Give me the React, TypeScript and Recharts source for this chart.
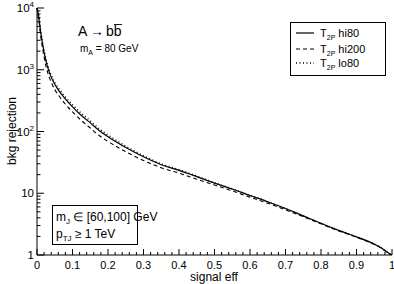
import React from "react"
import { LineChart, Line, XAxis, YAxis } from "recharts"

// signal efficiency sampling shared by all three curves
const effs = [
  0, 0.005, 0.01, 0.02, 0.03, 0.04, 0.05, 0.06, 0.075, 0.1, 0.125, 0.15, 0.175,
  0.2, 0.25, 0.3, 0.35, 0.4, 0.45, 0.5, 0.55, 0.6, 0.65, 0.7, 0.75, 0.8, 0.85,
  0.9, 0.95, 0.97, 0.99, 1,
]

const hi80 = [
  10000, 7000, 4170, 1900, 1100, 760, 582, 473, 363, 251, 182, 138, 104, 82, 55,
  39, 29, 23.5, 18.6, 14.6, 11.7, 9.2, 7.3, 5.65, 4.3, 3.26, 2.5, 1.97, 1.5,
  1.3, 1.08, 1,
]

const hi200 = [
  10000, 6500, 3700, 1600, 910, 630, 480, 390, 300, 208, 151, 114, 86, 69, 47,
  34, 25.8, 21.2, 16.9, 13.6, 10.9, 8.65, 6.9, 5.4, 4.17, 3.2, 2.45, 1.94, 1.48,
  1.29, 1.07, 1,
]

const lo80 = [
  10000, 7400, 4500, 2050, 1190, 820, 628, 510, 392, 271, 197, 149, 111, 88, 58,
  40.5, 30, 24.2, 19, 14.8, 11.8, 9.25, 7.3, 5.65, 4.3, 3.26, 2.5, 1.97, 1.5,
  1.3, 1.08, 1,
]

const xTicks = [
  0, 0.02, 0.04, 0.06, 0.08, 0.1, 0.12, 0.14, 0.16, 0.18, 0.2, 0.22, 0.24, 0.26,
  0.28, 0.3, 0.32, 0.34, 0.36, 0.38, 0.4, 0.42, 0.44, 0.46, 0.48, 0.5, 0.52,
  0.54, 0.56, 0.58, 0.6, 0.62, 0.64, 0.66, 0.68, 0.7, 0.72, 0.74, 0.76, 0.78,
  0.8, 0.82, 0.84, 0.86, 0.88, 0.9, 0.92, 0.94, 0.96, 0.98, 1,
]

const yTicks = [
  1, 2, 3, 4, 5, 6, 7, 8, 9, 10, 20, 30, 40, 50, 60, 70, 80, 90, 100, 200, 300,
  400, 500, 600, 700, 800, 900, 1000, 2000, 3000, 4000, 5000, 6000, 7000, 8000,
  9000, 10000,
]

const data = effs.map((eff, i) => ({
  eff,
  hi80: hi80[i],
  hi200: hi200[i],
  lo80: lo80[i],
}))

const FONT = "'Liberation Sans', Arial, Helvetica, sans-serif"

const isMajorX = (v: number) => Math.abs(v * 10 - Math.round(v * 10)) < 1e-6
const isMajorY = (v: number) => {
  const l = Math.log10(v)
  return Math.abs(l - Math.round(l)) < 1e-6
}

function BottomTick(props: any) {
  const { x, y, payload } = props
  const v = payload.value
  const major = isMajorX(v)
  const label = v === 0 ? "0" : v === 1 ? "1" : v.toFixed(1)
  return (
    <g>
      <line x1={x} x2={x} y1={y} y2={y - (major ? 6 : 3)} stroke="#000" />
      {major && (
        <text
          x={x}
          y={y + 14}
          textAnchor="middle"
          fontSize={11}
          fontFamily={FONT}
          fill="#000"
        >
          {label}
        </text>
      )}
    </g>
  )
}

function TopTick(props: any) {
  const { x, y, payload } = props
  const major = isMajorX(payload.value)
  return <line x1={x} x2={x} y1={y} y2={y + (major ? 6 : 3)} stroke="#000" />
}

function LeftTick(props: any) {
  const { x, y, payload } = props
  const v = payload.value
  const major = isMajorY(v)
  const exp = Math.round(Math.log10(v))
  return (
    <g>
      <line x1={x} x2={x + (major ? 7 : 3.5)} y1={y} y2={y} stroke="#000" />
      {major && (
        <text
          x={x - 3}
          y={y + 4}
          textAnchor="end"
          fontSize={11.5}
          fontFamily={FONT}
          fill="#000"
        >
          {exp <= 1 ? (
            String(v)
          ) : (
            <>
              <tspan>10</tspan>
              <tspan dy={-5} fontSize={8}>
                {exp}
              </tspan>
            </>
          )}
        </text>
      )}
    </g>
  )
}

function RightTick(props: any) {
  const { x, y, payload } = props
  const major = isMajorY(payload.value)
  return <line x1={x} x2={x - (major ? 7 : 3.5)} y1={y} y2={y} stroke="#000" />
}

export default function App() {
  return (
    <div style={{ position: "relative", width: 394, height: 284 }}>
      <style>{"body{margin:0;background:#fff}"}</style>
      <LineChart
        width={394}
        height={284}
        data={data}
        margin={{ top: 8, right: 2, bottom: 0, left: 0 }}
      >
        <XAxis
          dataKey="eff"
          type="number"
          domain={[0, 1]}
          ticks={xTicks}
          interval={0}
          height={29}
          tickSize={0}
          tickMargin={0}
          tickLine={false}
          axisLine={{ stroke: "#000" }}
          tick={<BottomTick />}
        />
        <XAxis
          xAxisId="top"
          orientation="top"
          dataKey="eff"
          type="number"
          domain={[0, 1]}
          ticks={xTicks}
          interval={0}
          height={0}
          tickSize={0}
          tickMargin={0}
          tickLine={false}
          axisLine={{ stroke: "#000" }}
          tick={<TopTick />}
        />
        <YAxis
          scale="log"
          type="number"
          domain={[1, 10000]}
          allowDataOverflow
          ticks={yTicks}
          interval={0}
          width={37}
          tickSize={0}
          tickMargin={0}
          tickLine={false}
          axisLine={{ stroke: "#000" }}
          tick={<LeftTick />}
        />
        <YAxis
          yAxisId="right"
          orientation="right"
          scale="log"
          type="number"
          domain={[1, 10000]}
          allowDataOverflow
          ticks={yTicks}
          interval={0}
          width={0}
          tickSize={0}
          tickMargin={0}
          tickLine={false}
          axisLine={{ stroke: "#000" }}
          tick={<RightTick />}
        />
        <Line
          dataKey="hi200"
          stroke="#000"
          strokeWidth={1.1}
          strokeDasharray="4 3"
          dot={false}
          type="monotone"
          isAnimationActive={false}
        />
        <Line
          dataKey="lo80"
          stroke="#000"
          strokeWidth={1.4}
          strokeDasharray="1 2.5"
          dot={false}
          type="monotone"
          isAnimationActive={false}
        />
        <Line
          dataKey="hi80"
          stroke="#000"
          strokeWidth={1.2}
          dot={false}
          type="monotone"
          isAnimationActive={false}
        />
      </LineChart>
      <svg
        width={394}
        height={284}
        style={{ position: "absolute", left: 0, top: 0, pointerEvents: "none" }}
        fontFamily={FONT}
      >
        <text
          x={13}
          y={131}
          transform="rotate(-90 13 131)"
          textAnchor="middle"
          dominantBaseline="middle"
          fontSize={12}
        >
          bkg rejection
        </text>
        <text x={214} y={281} textAnchor="middle" fontSize={12}>
          signal eff
        </text>

        <text x={78} y={36} fontSize={14}>
          A
        </text>
        <text x={90} y={36} fontSize={14}>
          →
        </text>
        <text x={106} y={36} fontSize={14}>
          bb
        </text>
        <line x1={114} x2={122} y1={24.5} y2={24.5} stroke="#000" strokeWidth={0.9} />
        <text x={80} y={52} fontSize={10}>
          m<tspan dy={3} fontSize={7}>A</tspan>
          <tspan dy={-3}> = 80 GeV</tspan>
        </text>

        <rect x={290.5} y={22.5} width={95} height={53} fill="#fff" stroke="#000" />
        <line x1={296} x2={314} y1={33} y2={33} stroke="#000" strokeWidth={1.2} />
        <line
          x1={296}
          x2={314}
          y1={49}
          y2={49}
          stroke="#000"
          strokeWidth={1.1}
          strokeDasharray="4 3"
        />
        <line
          x1={296}
          x2={314}
          y1={63}
          y2={63}
          stroke="#000"
          strokeWidth={1.4}
          strokeDasharray="1 2.5"
        />
        {[
          { y: 37, name: "hi80" },
          { y: 53, name: "hi200" },
          { y: 67, name: "lo80" },
        ].map((r) => (
          <text key={r.name} x={320} y={r.y} fontSize={11}>
            T<tspan dy={3} fontSize={7}>2P</tspan>
            <tspan dy={-3}> {r.name}</tspan>
          </text>
        ))}

        <rect x={52.5} y={205.5} width={85} height={39} fill="#fff" stroke="#000" />
        <text x={56} y={221} fontSize={12}>
          m<tspan dy={3} fontSize={8}>J</tspan>
          <tspan dy={-3}> ∈ [60,100] GeV</tspan>
        </text>
        <text x={56} y={238} fontSize={12}>
          p<tspan dy={3} fontSize={8}>TJ</tspan>
          <tspan dy={-3}> ≥ 1 TeV</tspan>
        </text>
      </svg>
    </div>
  )
}
